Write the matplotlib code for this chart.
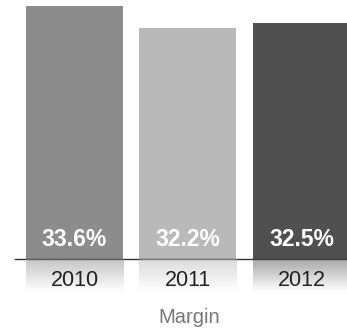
import matplotlib
matplotlib.use('Agg')
import matplotlib.pyplot as plt
import numpy as np
from matplotlib.colors import to_rgb

# margin by year
years = ['2010', '2011', '2012']
margin = [33.6, 32.2, 32.5]
bar_colors = ['#8c8c8c', '#b9b9b9', '#505050']

W, H = 347, 332
base_px = 259          # baseline, pixels from top
floor = 17.25          # value at the baseline
top = 34.02

fig = plt.figure(figsize=(W / 100, H / 100), dpi=100)
fig.patch.set_facecolor('white')

ax = fig.add_axes([0, (H - base_px) / H, 1, base_px / H])
ax.set_xlim(-0.656, 2.401)
ax.set_ylim(floor, top)
ax.axis('off')

x = np.arange(len(years))
bw = 0.855
ax.bar(x, [m - floor for m in margin], bw, bottom=floor, color=bar_colors, linewidth=0)

sans = ['Liberation Sans', 'DejaVu Sans']
for xi, m in zip(x, margin):
    ax.annotate(f'{m:.1f}%', (xi, floor), xytext=(0, 9.2), textcoords='offset points',
                ha='center', va='baseline', color='white', fontsize=16.5,
                fontweight='bold', family=sans)

# faded reflection under each bar
rx = fig.add_axes([0, (H - 292) / H, 1, (292 - base_px) / H])
rx.set_xlim(-0.656, 2.401)
rx.set_ylim(0, 1)
rx.axis('off')
for xi, c in zip(x, bar_colors):
    rgb = np.array(to_rgb(c))
    fade = np.linspace(0.5, 0.0, 64)[:, None]
    img = np.ones((64, 1, 4))
    img[..., :3] = rgb
    img[..., 3] = fade
    rx.imshow(img, extent=(xi - bw / 2, xi + bw / 2, 0, 1), aspect='auto',
              interpolation='bilinear', origin='upper')

ax.axhline(floor, xmin=15 / W, xmax=1, color='#333333', lw=1.0, clip_on=False)

for xi, yr in zip(x, years):
    px = (xi + 0.656) / (2.401 + 0.656)
    fig.text(px, 1 - 286 / H, yr, ha='center', va='baseline', fontsize=15.5,
             color='#222222', family=sans)

fig.text(189 / W, 1 - 323 / H, 'Margin', ha='center', va='baseline', fontsize=14.5,
         color='#777777', family=sans)

fig.savefig('out.png', dpi=100, facecolor='white')
